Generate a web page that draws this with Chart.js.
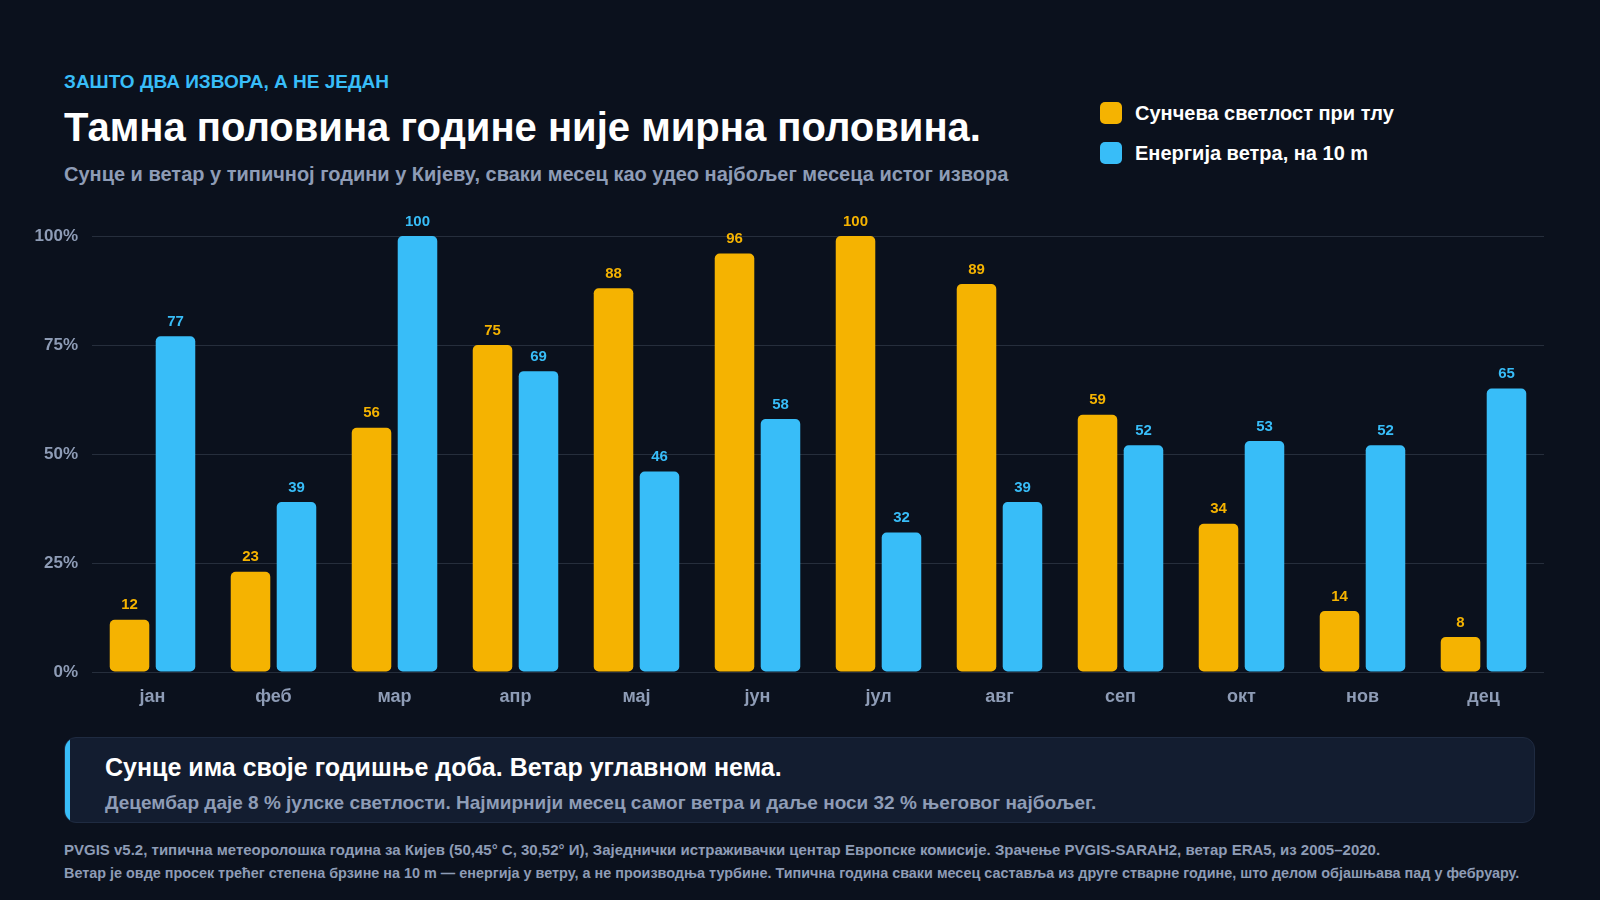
<!DOCTYPE html>
<html lang="sr">
<head>
<meta charset="utf-8">
<script src="https://cdn.jsdelivr.net/npm/chart.js@4"></script>
<style>
  html,body{margin:0;padding:0;background:#0b111d;}
  body{width:1600px;height:900px;position:relative;overflow:hidden;font-family:"Liberation Sans",Arial,sans-serif;font-weight:bold;}
  .kicker{position:absolute;left:64px;top:71px;font-size:19px;color:#38bdf8;}
  .title{position:absolute;left:64px;top:105px;font-size:40px;color:#ffffff;}
  .sub{position:absolute;left:64px;top:163px;font-size:20px;color:#8e9cb6;}
  .legend{position:absolute;left:1100px;top:102px;}
  .li{display:flex;align-items:center;height:22px;margin-bottom:18px;font-size:20px;color:#fff;}
  .sw{width:22px;height:22px;border-radius:5px;margin-right:13px;}
  #wrap{position:absolute;left:20px;top:200px;width:1580px;height:520px;}
  .call{position:absolute;left:64px;top:737px;width:1471px;height:86px;box-sizing:border-box;background:#131d30;border:1px solid #1f2b41;border-radius:12px;overflow:hidden;}
  .bar{position:absolute;left:0;top:0;bottom:0;width:5px;background:#38bdf8;}
  .ch{position:absolute;left:40px;top:15px;font-size:25px;color:#fff;}
  .cs{position:absolute;left:40px;top:54px;font-size:19px;color:#8e9cb6;}
  .foot{position:absolute;left:64px;color:#8e9cb6;white-space:nowrap;}
</style>
</head>
<body>
<div class="kicker">ЗАШТО ДВА ИЗВОРА, А НЕ ЈЕДАН</div>
<div class="title">Тамна половина године није мирна половина.</div>
<div class="sub">Сунце и ветар у типичној години у Кијеву, сваки месец као удео најбољег месеца истог извора</div>
<div class="legend">
  <div class="li"><div class="sw" style="background:#f5b301"></div>Сунчева светлост при тлу</div>
  <div class="li"><div class="sw" style="background:#38bdf8"></div>Енергија ветра, на 10 m</div>
</div>
<div id="wrap"><canvas id="c"></canvas></div>
<div class="call">
  <div class="bar"></div>
  <div class="ch">Сунце има своје годишње доба. Ветар углавном нема.</div>
  <div class="cs">Децембар даје 8 % јулске светлости. Најмирнији месец самог ветра и даље носи 32 % његовог најбољег.</div>
</div>
<div class="foot" style="top:841px;font-size:15px">PVGIS v5.2, типична метеоролошка година за Кијев (50,45° С, 30,52° И), Заједнички истраживачки центар Европске комисије. Зрачење PVGIS-SARAH2, ветар ERA5, из 2005–2020.</div>
<div class="foot" style="top:865px;font-size:14.4px">Ветар је овде просек трећег степена брзине на 10 m — енергија у ветру, а не производња турбине. Типична година сваки месец саставља из друге стварне године, што делом објашњава пад у фебруару.</div>

<script>
const months = ["јан","феб","мар","апр","мај","јун","јул","авг","сеп","окт","нов","дец"];
const sunValues = [12,23,56,75,88,96,100,89,59,34,14,8];
const windValues = [77,39,100,69,46,58,32,39,52,53,52,65];
const yTicks = [0,25,50,75,100];
const sunLabel = "Сунчева светлост при тлу";
const windLabel = "Енергија ветра, на 10 m";
const SUN = "#f5b301", WIND = "#38bdf8";

const valueLabels = {
  id:"valueLabels",
  afterDatasetsDraw(chart){
    const ctx = chart.ctx;
    ctx.save();
    ctx.font = 'bold 15px "Liberation Sans", Arial, sans-serif';
    ctx.textAlign = "center";
    ctx.textBaseline = "bottom";
    chart.data.datasets.forEach((ds,i)=>{
      const meta = chart.getDatasetMeta(i);
      ctx.fillStyle = ds.backgroundColor;
      meta.data.forEach((el,j)=>{
        ctx.fillText(String(ds.data[j]), el.x, el.y - 7);
      });
    });
    ctx.restore();
  }
};

new Chart(document.getElementById("c"),{
  type:"bar",
  data:{
    labels:months,
    datasets:[
      {label:sunLabel,data:sunValues,backgroundColor:SUN,borderRadius:5,borderSkipped:false,categoryPercentage:0.76,barPercentage:0.86},
      {label:windLabel,data:windValues,backgroundColor:WIND,borderRadius:5,borderSkipped:false,categoryPercentage:0.76,barPercentage:0.86}
    ]
  },
  options:{
    responsive:true,maintainAspectRatio:false,animation:false,
    layout:{padding:{top:36,right:56,left:0,bottom:0}},
    plugins:{legend:{display:false},tooltip:{enabled:false}},
    scales:{
      x:{
        grid:{display:false,drawTicks:false},
        border:{display:false},
        ticks:{color:"#8e9cb6",font:{family:'"Liberation Sans", Arial, sans-serif',size:18,weight:"bold"},padding:14},
        afterFit(s){s.height=48;}
      },
      y:{
        min:0,max:100,
        afterBuildTicks(s){s.ticks = yTicks.map(v=>({value:v}));},
        grid:{color:"rgba(148,163,184,0.2)",lineWidth:1,drawTicks:false},
        border:{display:false},
        ticks:{color:"#8e9cb6",font:{family:'"Liberation Sans", Arial, sans-serif',size:17,weight:"bold"},padding:14,callback:v=>v+"%"},
        afterFit(s){s.width=72;}
      }
    }
  },
  plugins:[valueLabels]
});
</script>
</body>
</html>
